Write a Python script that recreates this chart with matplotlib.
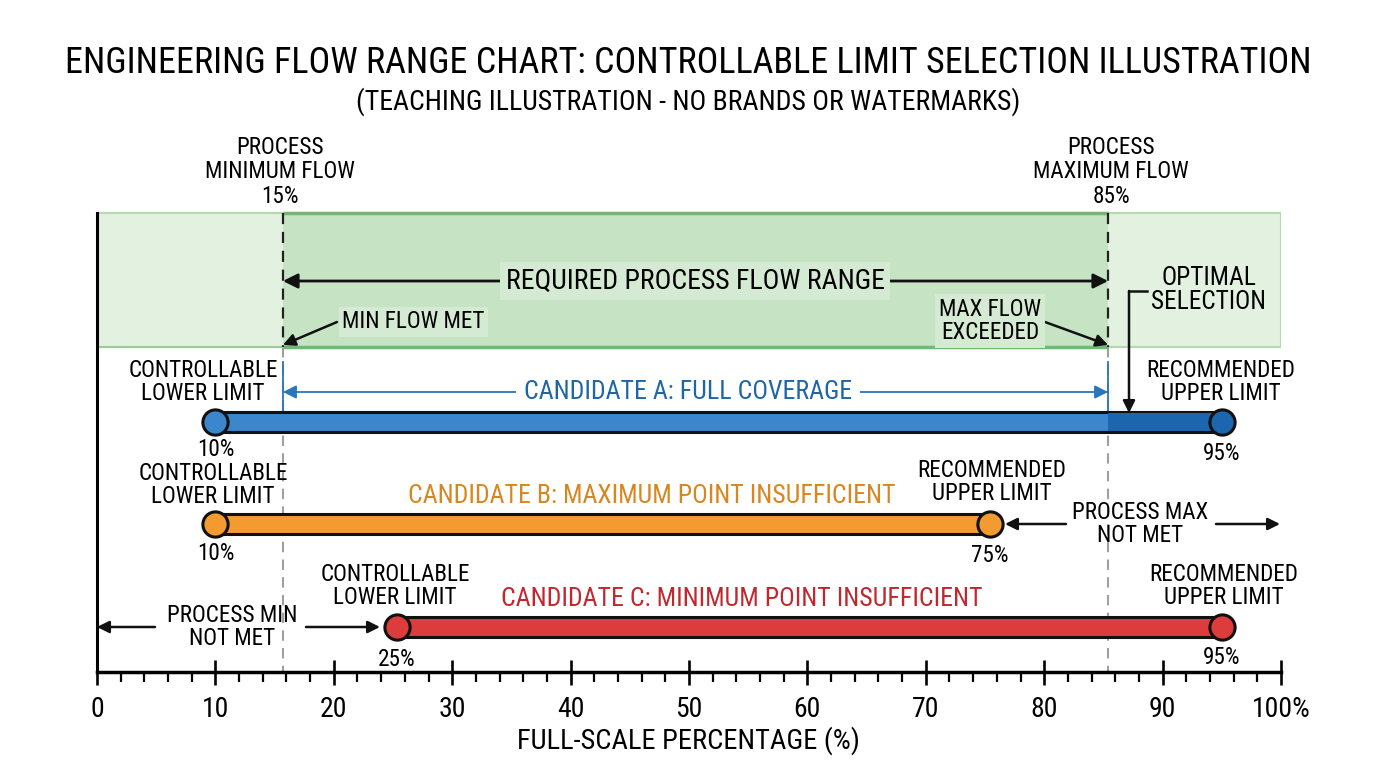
import matplotlib
matplotlib.use("Agg")
import matplotlib.pyplot as plt
from matplotlib.patches import Rectangle, FancyArrowPatch

plt.rcParams['font.family'] = ['Roboto Condensed', 'Liberation Sans Narrow', 'Roboto', 'DejaVu Sans']
plt.rcParams['font.weight'] = 'normal'

# ---------------- data ----------------
title = "ENGINEERING FLOW RANGE CHART: CONTROLLABLE LIMIT SELECTION ILLUSTRATION"
subtitle = "(TEACHING ILLUSTRATION - NO BRANDS OR WATERMARKS)"
x_label = "FULL-SCALE PERCENTAGE (%)"
x_ticks = [0, 10, 20, 30, 40, 50, 60, 70, 80, 90, 100]
x_tick_labels = ["0", "10", "20", "30", "40", "50", "60", "70", "80", "90", "100%"]

process_min = 15.7      # drawn position of process minimum flow
process_max = 85.4      # drawn position of process maximum flow
process_min_label = "15%"
process_max_label = "85%"

candidates = ["CANDIDATE A: FULL COVERAGE",
              "CANDIDATE B: MAXIMUM POINT INSUFFICIENT",
              "CANDIDATE C: MINIMUM POINT INSUFFICIENT"]
cand_low = [10, 10, 25.3]
cand_high = [95, 75.4, 95]
cand_low_labels = ["10%", "10%", "25%"]
cand_high_labels = ["95%", "75%", "95%"]
bar_colors = ["#3b86cc", "#f39a30", "#dc3c3c"]
text_colors = ["#1f66a8", "#d8861f", "#c0282e"]
blue_dark = "#1c66b0"

# ---------------- figure ----------------
W, H = 1376, 768
fig = plt.figure(figsize=(W / 100, H / 100), dpi=100)
AX_L, AX_R, AX_B = 97, 1281, 672
ax = fig.add_axes([AX_L / W, (H - AX_B) / H, (AX_R - AX_L) / W, AX_B / H])
ax.set_xlim(0, 100)
ax.set_ylim(AX_B, 0)   # y in pixel rows from top


def px(xp):
    return (xp - AX_L) / (AX_R - AX_L) * 100.0


fs_lab = 16.7
fs_big = 20
fs_cand = 18.6

# green band
BAND_T, BAND_B = 213, 347
ax.add_patch(Rectangle((0, BAND_T), 100, BAND_B - BAND_T, facecolor="#e3f1e1",
                       edgecolor="#b5dab2", lw=1.5, zorder=1))
ax.add_patch(Rectangle((process_min, BAND_T), process_max - process_min, BAND_B - BAND_T,
                       facecolor="#c6e3c3", edgecolor="none", zorder=1.5))
for yy in (BAND_T, BAND_B):
    ax.plot([process_min, process_max], [yy, yy], color="#76b675", lw=2.5, zorder=2,
            solid_capstyle="butt")
ax.plot([0, process_min], [BAND_B, BAND_B], color="#9ccd99", lw=1.5, zorder=2)

# dashed boundary lines
for xv in (process_min, process_max):
    ax.plot([xv, xv], [BAND_T, BAND_B], color="#222222", lw=1.6, ls=(0, (5, 3.5)), zorder=3)
    ax.plot([xv, xv], [BAND_B, AX_B], color="#a0a0a0", lw=1.5, ls=(0, (5, 3.5)), zorder=1)
    ax.plot([xv, xv], [362, 432], color="#2a75bb", lw=1.3, zorder=2)

# top labels
ax.text(px(280), 172, "PROCESS\nMINIMUM FLOW\n" + process_min_label, ha="center", va="center",
        fontsize=fs_lab, linespacing=1.08)
ax.text(px(1111), 172, "PROCESS\nMAXIMUM FLOW\n" + process_max_label, ha="center", va="center",
        fontsize=fs_lab, linespacing=1.08)

# required range arrow
ax.add_patch(FancyArrowPatch((process_min, 281), (process_max, 281), arrowstyle="<|-|>",
                             mutation_scale=22, color="#111111", lw=2, zorder=4,
                             shrinkA=0, shrinkB=0))
ax.text(px(695), 281, "REQUIRED PROCESS FLOW RANGE", ha="center", va="center",
        fontsize=fs_big, zorder=5,
        bbox=dict(boxstyle="square,pad=0.2", facecolor="#d5ead3", edgecolor="none"))

# min flow met
ax.text(px(342), 322, "MIN FLOW MET", ha="left", va="center", fontsize=fs_lab, zorder=5,
        bbox=dict(boxstyle="square,pad=0.15", facecolor="#d5ead3", edgecolor="none"))
ax.add_patch(FancyArrowPatch((px(337), 322), (process_min, 345), arrowstyle="-|>",
                             mutation_scale=18, color="#111111", lw=1.8, zorder=4,
                             shrinkA=0, shrinkB=0))
# max flow exceeded
ax.text(px(990), 321, "MAX FLOW\nEXCEEDED", ha="center", va="center", fontsize=fs_lab, zorder=5,
        linespacing=1.05,
        bbox=dict(boxstyle="square,pad=0.15", facecolor="#d5ead3", edgecolor="none"))
ax.add_patch(FancyArrowPatch((px(1045), 322), (process_max, 345), arrowstyle="-|>",
                             mutation_scale=18, color="#111111", lw=1.8, zorder=4,
                             shrinkA=0, shrinkB=0))
# optimal selection
ax.text(px(1209), 290, "OPTIMAL\nSELECTION", ha="center", va="center", fontsize=18.3,
        linespacing=1.05, zorder=5)
ax.plot([px(1147), px(1129)], [291, 291], color="#111111", lw=1.8, zorder=4)
ax.add_patch(FancyArrowPatch((px(1129), 291), (px(1129), 413), arrowstyle="-|>",
                             mutation_scale=18, color="#111111", lw=1.8, zorder=4,
                             shrinkA=0, shrinkB=0))

# candidate A arrow
ax.add_patch(FancyArrowPatch((process_min, 392), (process_max, 392), arrowstyle="<|-|>",
                             mutation_scale=20, color="#2a75bb", lw=1.3, zorder=4,
                             shrinkA=0, shrinkB=0))

# candidate bars
bar_y = [422, 524, 627]
BAR_H = 20
for i in range(3):
    lo, hi = cand_low[i], cand_high[i]
    ax.barh(bar_y[i], hi - lo, left=lo, height=BAR_H, color=bar_colors[i],
            edgecolor="#111111", lw=2.2, zorder=6)
    if i == 0:
        ax.barh(bar_y[i], hi - process_max, left=process_max, height=BAR_H - 2.2,
                color=blue_dark, edgecolor="none", zorder=6.5)
    c_lo = bar_colors[i]
    c_hi = blue_dark if i == 0 else bar_colors[i]
    ax.scatter([lo], [bar_y[i]], s=330, color=c_lo, edgecolor="#111111", lw=2.2, zorder=7)
    ax.scatter([hi], [bar_y[i]], s=330, color=c_hi, edgecolor="#111111", lw=2.2, zorder=7)

# candidate titles
ax.text(px(688), 392, candidates[0], ha="center", va="center", fontsize=fs_cand,
        color=text_colors[0], zorder=5,
        bbox=dict(boxstyle="square,pad=0.3", facecolor="white", edgecolor="none"))
ax.text(px(652), 496, candidates[1], ha="center", va="center", fontsize=fs_cand,
        color=text_colors[1], zorder=5)
ax.text(px(742), 599, candidates[2], ha="center", va="center", fontsize=fs_cand,
        color=text_colors[2], zorder=5)

# limit labels
def two(xp, yc, s):
    ax.text(px(xp), yc, s, ha="center", va="center", fontsize=fs_lab, linespacing=1.05, zorder=5)

two(203, 382, "CONTROLLABLE\nLOWER LIMIT")
two(1221, 382, "RECOMMENDED\nUPPER LIMIT")
two(213, 485, "CONTROLLABLE\nLOWER LIMIT")
two(992, 482, "RECOMMENDED\nUPPER LIMIT")
two(395, 586, "CONTROLLABLE\nLOWER LIMIT")
two(1224, 586, "RECOMMENDED\nUPPER LIMIT")

# value labels
val_y = [(450, 454), (554, 556), (659, 658)]
for i in range(3):
    ax.text(cand_low[i], val_y[i][0], cand_low_labels[i], ha="center", va="center",
            fontsize=fs_lab, zorder=5)
    ax.text(cand_high[i], val_y[i][1], cand_high_labels[i], ha="center", va="center",
            fontsize=fs_lab, zorder=5)

# process max not met
two(1140, 524, "PROCESS MAX\nNOT MET")
ax.add_patch(FancyArrowPatch((px(1066), 524), (px(1005), 524), arrowstyle="-|>",
                             mutation_scale=18, color="#111111", lw=1.8, zorder=4,
                             shrinkA=0, shrinkB=0))
ax.add_patch(FancyArrowPatch((px(1216), 524), (px(1280), 524), arrowstyle="-|>",
                             mutation_scale=18, color="#111111", lw=1.8, zorder=4,
                             shrinkA=0, shrinkB=0))
# process min not met
two(232, 627, "PROCESS MIN\nNOT MET")
ax.add_patch(FancyArrowPatch((px(155), 627), (0, 627), arrowstyle="-|>",
                             mutation_scale=18, color="#111111", lw=1.8, zorder=4,
                             shrinkA=0, shrinkB=0))
ax.add_patch(FancyArrowPatch((px(306), 627), (px(380), 627), arrowstyle="-|>",
                             mutation_scale=18, color="#111111", lw=1.8, zorder=4,
                             shrinkA=0, shrinkB=0))

# axes styling
for s in ("top", "right"):
    ax.spines[s].set_visible(False)
ax.spines["left"].set_bounds(AX_B, BAND_T)
ax.spines["left"].set_linewidth(2.2)
ax.spines["bottom"].set_linewidth(2.5)
ax.set_yticks([])
ax.set_xticks(x_ticks)
ax.set_xticklabels(x_tick_labels, fontsize=20)
ax.set_xticks(range(0, 101, 2), minor=True)
ax.tick_params(axis="x", which="major", direction="inout", length=18, width=1.9, pad=8)
ax.tick_params(axis="x", which="minor", direction="out", length=7.5, width=1.6)
for t in ax.spines.values():
    t.set_zorder(8)

fig.text(688 / W, 1 - 63 / H, title, ha="center", va="center", fontsize=26)
fig.text(688 / W, 1 - 102 / H, subtitle, ha="center", va="center", fontsize=20)
fig.text(688 / W, 1 - 741 / H, x_label, ha="center", va="center", fontsize=20.5)

fig.savefig("out.png", dpi=100)
